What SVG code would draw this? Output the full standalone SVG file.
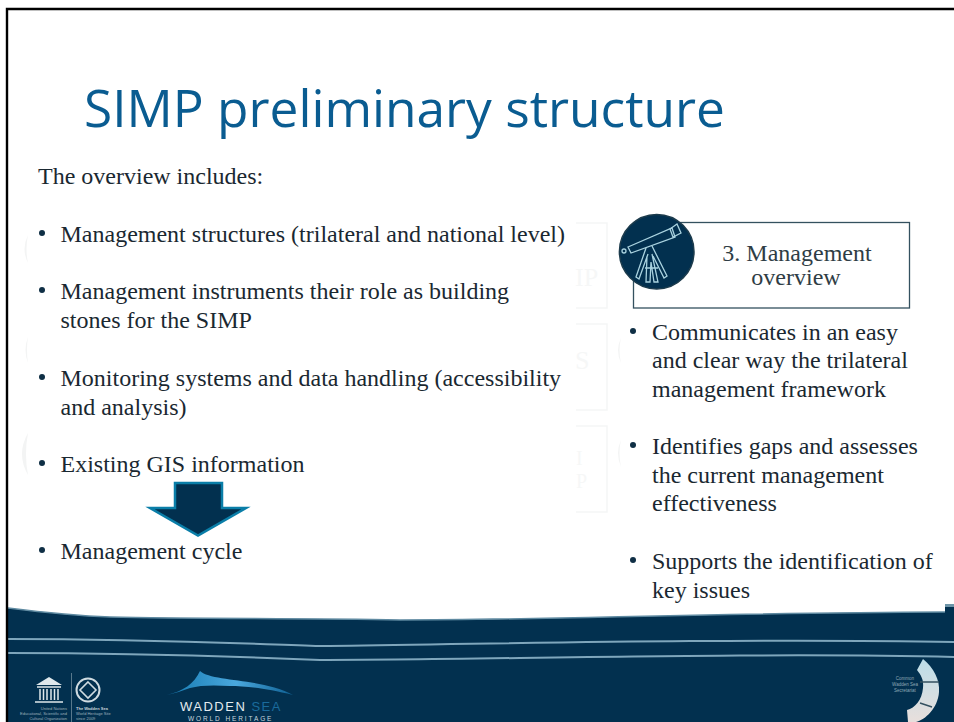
<svg xmlns="http://www.w3.org/2000/svg" width="954" height="722" viewBox="0 0 954 722">
<defs>
<style>
.b{font-family:"Liberation Serif","Times New Roman",serif;font-size:24px;fill:#1a2831}
.t{font-family:"Open Sans","Noto Sans",sans-serif;font-size:52px;fill:#0a5c91}
.g{fill:none;stroke:#f5f6f6;stroke-width:1.5}
.gc{fill:#f3f4f4}
.gt{font-family:"Liberation Serif",serif;font-size:26px;fill:#f6f7f7}
.bu{fill:#0f2f45}
.sc{fill:none;stroke:#a9d2df;stroke-width:1.3}
.ln{fill:none;stroke:#7ea6bc;stroke-width:2}
.s{font-family:"Liberation Sans",Arial,sans-serif}
.m{font-family:"Liberation Serif",serif;font-size:24px;fill:#2f3d45}
</style>
<linearGradient id="wave" x1="0" y1="0" x2="1" y2="0"><stop offset="0" stop-color="#1579b0"/><stop offset=".55" stop-color="#4aa8de"/><stop offset="1" stop-color="#0e5f92"/></linearGradient>
<linearGradient id="ring" x1="0" y1="0" x2="0" y2="1"><stop offset="0" stop-color="#bcdde8"/><stop offset="1" stop-color="#e8dfdc"/></linearGradient>
</defs>
<rect width="954" height="722" fill="#fff"/>
<g id="footer">
<path d="M8 608C40 612 80 616 110 617C200 619 300 618 400 620C550 620 700 613 945 612V606H954V722H8Z" fill="#02304f"/>
<path d="M8 608C40 612 80 616 110 617C200 619 300 618 400 620C550 620 700 613 945 612" fill="none" stroke="#5f8aa1" stroke-width="1.500"/>
<rect x="945" y="604" width="9" height="3" fill="#6d94a8"/>
<path class="ln" d="M8 639C150 639 250 644 320 646C480 644 750 638 954 642"/>
<path class="ln" d="M8 653C150 653 250 657 320 660C480 660 750 652 954 657"/>
</g>
<g id="frame"><path d="M7 722V9H954" fill="none" stroke="#000" stroke-width="2.400"/></g>
<g id="ghosts">
<path class="gc" d="M28 235Q21 249 28 263Q25 249 28 235Z"/>
<path class="gc" d="M28 337Q23 350 28 363Q26 350 28 337Z"/>
<path class="gc" d="M28 433Q16 454 28 475Q24 454 28 433Z"/>
<path class="g" d="M576 223H607V308H576"/>
<path class="g" d="M576 324H607V410H576"/>
<path class="g" d="M576 426H607V512H576"/>
<path class="gc" d="M621 338Q615 350 621 363Q618 350 621 338Z"/>
<path class="gc" d="M621 440Q615 453 621 467Q618 453 621 440Z"/>
<text class="gt" x="575" y="286">IP</text>
<text class="gt" x="575" y="369">S</text>
<text class="gt" x="576" y="465" style="font-size:20px">I</text>
<text class="gt" x="576" y="488" style="font-size:20px">P</text>
</g>
<text id="title" class="t" x="84" y="127" textLength="641" lengthAdjust="spacingAndGlyphs">SIMP preliminary structure</text>
<text class="b" x="38" y="184">The overview includes:</text>
<g id="left-list">
<circle class="bu" cx="42" cy="233" r="3"/><text class="b" x="60.500" y="242">Management structures (trilateral and national level)</text>
<circle class="bu" cx="42" cy="290" r="3"/><text class="b" x="60.500" y="299">Management instruments their role as building</text><text class="b" x="60.500" y="328">stones for the SIMP</text>
<circle class="bu" cx="42" cy="377" r="3"/><text class="b" x="60.500" y="386">Monitoring systems and data handling (accessibility</text><text class="b" x="60.500" y="415">and analysis)</text>
<circle class="bu" cx="42" cy="463" r="3"/><text class="b" x="60.500" y="472">Existing GIS information</text>
<circle class="bu" cx="42" cy="550" r="3"/><text class="b" x="60.500" y="559">Management cycle</text>
</g>
<g id="arrow"><path d="M175 483H222V508H246L198 535.500L150 508H175Z" fill="#02304f" stroke="#0a7ea8" stroke-width="2.500"/></g>
<g id="management-overview">
<rect x="633.500" y="222.500" width="276" height="85.500" fill="#fff" stroke="#34515f" stroke-width="1.300"/>
<text class="m" x="797" y="261" text-anchor="middle">3. Management</text>
<text class="m" x="796" y="285" text-anchor="middle">overview</text>
<circle cx="656.700" cy="251.700" r="37.300" fill="#02304f" stroke="#1c3b4c" stroke-width="1.500"/>
<path class="sc" d="M628 247L672 228L675 237L631 253Z"/>
<path class="sc" d="M670 229L677 224L681 233L673 237Z"/>
<circle class="sc" cx="624" cy="251" r="2"/>
<path class="sc" d="M646 248L636 277L639 279L648 254M652 246L667 276L664 278L653 256M647 256L646 282L650 282L651 262L654 282L658 282L652 254M645 268H658"/>
</g>
<g id="right-list">
<circle class="bu" cx="633" cy="331" r="3"/><text class="b" x="652" y="340">Communicates in an easy</text><text class="b" x="652" y="368">and clear way the trilateral</text><text class="b" x="652" y="397">management framework</text>
<circle class="bu" cx="633" cy="445" r="3"/><text class="b" x="652" y="454">Identifies gaps and assesses</text><text class="b" x="652" y="483">the current management</text><text class="b" x="652" y="511">effectiveness</text>
<circle class="bu" cx="633" cy="560" r="3"/><text class="b" x="652" y="569">Supports the identification of</text><text class="b" x="652" y="598">key issues</text>
</g>
<g id="unesco-logo">
<path d="M36 685L49 677L62 685Z" fill="#dfe8ec"/>
<path d="M37 687H61M40 689V700M43.500 689V700M47 689V700M51 689V700M54.500 689V700M58 689V700M35 702H63" stroke="#dfe8ec" stroke-width="1.500" fill="none"/>
<path d="M71.500 673V722" stroke="#6f8c9c" stroke-width=".8"/>
<circle cx="88" cy="690" r="11.500" fill="none" stroke="#cfdbe1" stroke-width="2"/>
<path d="M88 682L96 690L88 698L80 690Z" fill="none" stroke="#cfdbe1" stroke-width="1.600"/>
<text class="s" x="67" y="710" text-anchor="end" font-size="4" fill="#9fb2bd">United Nations</text>
<text class="s" x="67" y="715" text-anchor="end" font-size="4" fill="#9fb2bd">Educational, Scientific and</text>
<text class="s" x="67" y="720" text-anchor="end" font-size="4" fill="#9fb2bd">Cultural Organization</text>
<text class="s" x="76" y="710" font-size="4" font-weight="700" fill="#c5d2d9">The Wadden Sea</text>
<text class="s" x="76" y="715" font-size="4" fill="#9fb2bd">World Heritage Site</text>
<text class="s" x="76" y="720" font-size="4" fill="#9fb2bd">since 2009</text>
</g>
<g id="wadden-logo">
<path d="M167 695C183 691 194 684 200 671C212 682 262 678 293 695C265 688 245 686 230 686C215 685 200 685 190 688C182 691 175 693 167 695Z" fill="url(#wave)"/>
<text class="s" x="180" y="711" font-size="13" letter-spacing="1.500" fill="#e4ecef">WADDEN <tspan fill="#1a6b9c">SEA</tspan></text>
<text class="s" x="188" y="720.500" font-size="6.500" letter-spacing="1.900" fill="#c9d7de">WORLD HERITAGE</text>
</g>
<g id="secretariat-logo">
<text class="s" text-anchor="middle" font-size="4.500" fill="#8fa8b5"><tspan x="905" y="680">Common</tspan><tspan x="905" y="686">Wadden Sea</tspan><tspan x="905" y="692">Secretariat</tspan></text>
<path d="M923 659C934 668 940 680 939 692C938 708 925 720 916 722H908L907 710C915 708 922 700 923 688C924 680 921 675 917 670Z" fill="url(#ring)"/>
<path d="M920 682L939 682M920 703L932 707" stroke="#33505f" stroke-width="1.400"/>
</g>
</svg>
